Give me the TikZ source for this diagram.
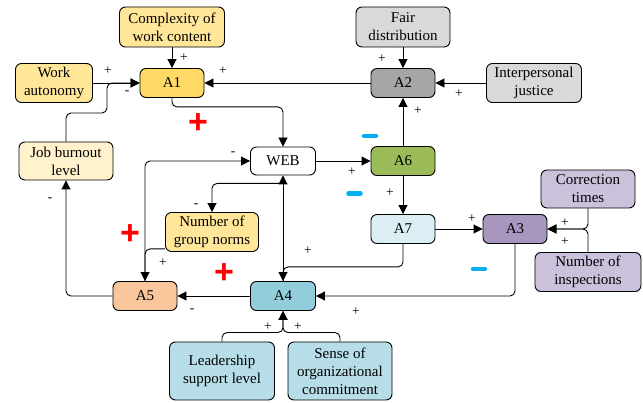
\documentclass[tikz,border=0pt]{standalone}
\usepackage{fontspec}
\setmainfont{Liberation Serif}
\newfontfamily\sansf{Liberation Sans}
\usetikzlibrary{arrows.meta}
\definecolor{cyel}{HTML}{FFE699}
\definecolor{cgold}{HTML}{FFD966}
\definecolor{cpale}{HTML}{FFF2CC}
\definecolor{cgrey}{HTML}{D9D9D9}
\definecolor{cdgrey}{HTML}{A6A6A6}
\definecolor{cgreen}{HTML}{9BBB59}
\definecolor{clblue}{HTML}{DAEEF3}
\definecolor{cpurp}{HTML}{A796BE}
\definecolor{clpurp}{HTML}{CCC1DA}
\definecolor{cblue}{HTML}{92CDDC}
\definecolor{cmblue}{HTML}{B7DEE8}
\definecolor{cpeach}{HTML}{F9C59B}
\definecolor{cminus}{HTML}{00B0F0}
\begin{document}
\begin{tikzpicture}[x=1pt,y=-1pt,
  box/.style={draw, line width=0.9pt, rounded corners=6pt, align=center, inner sep=0pt,
    font=\fontsize{15}{18}\selectfont},
  sm/.style={box, minimum width=64pt, minimum height=29pt},
  ar/.style={-{Triangle[length=9pt,width=9pt]}, line width=0.9pt, rounded corners=5pt},
  pl/.style={font=\fontsize{13.5}{13.5}\selectfont, inner sep=0pt},
  bigp/.style={text=red, font=\sansf\bfseries\fontsize{34}{34}\selectfont, inner sep=0pt},
  bigm/.style={draw=cminus, line width=4.5pt, line cap=round}]
\useasboundingbox (0,0) rectangle (643,403);
% nodes
\node[box, fill=cyel, minimum width=105pt, minimum height=40pt] (cx) at (172,27) {Complexity of\\work content};
\node[box, fill=cyel, minimum width=77pt, minimum height=39pt] (wa) at (54,83) {Work\\autonomy};
\node[sm, fill=cgold] (a1) at (172,83) {A1};
\node[box, fill=cpale, minimum width=94pt, minimum height=38pt] (jb) at (66,161) {Job burnout\\level};
\node[sm, fill=white, minimum width=65pt, minimum height=28pt] (web) at (283,161) {WEB};
\node[box, fill=cgrey, minimum width=94pt, minimum height=40pt] (fd) at (403,27) {Fair\\distribution};
\node[sm, fill=cdgrey] (a2) at (403,83) {A2};
\node[box, fill=cgrey, minimum width=95pt, minimum height=39pt] (ij) at (534,83) {Interpersonal\\justice};
\node[sm, fill=cgreen] (a6) at (403,161) {A6};
\node[box, fill=clpurp, minimum width=94pt, minimum height=38pt] (ct) at (588,189) {Correction\\times};
\node[sm, fill=clblue] (a7) at (403,229) {A7};
\node[sm, fill=cpurp] (a3) at (515,229) {A3};
\node[box, fill=clpurp, minimum width=106pt, minimum height=39pt] (ni) at (588,272) {Number of\\inspections};
\node[sm, fill=cpeach] (a5) at (145,296) {A5};
\node[sm, fill=cblue, minimum width=65pt] (a4) at (283,296) {A4};
\node[box, fill=cyel, minimum width=93pt, minimum height=39pt] (gn) at (212,232) {Number of\\group norms};
\node[box, fill=cmblue, minimum width=105pt, minimum height=58pt] (ls) at (222,371) {Leadership\\support level};
\node[box, fill=cmblue, minimum width=104pt, minimum height=58pt] (so) at (340,371) {Sense of\\organizational\\commitment};
% connectors
\draw[ar] (cx.south) -- (a1.north);
\draw[ar] (wa.east) -- (a1.west);
\draw[ar] (jb.north) |- (107,113) |- (a1.west);
\draw[ar] (a2.west) -- (a1.east);
\draw[ar] (a1.south) -- ++(0,9) -| (web.north);
\draw[ar] (web.east) -- (a6.west);
\draw[ar] (a6.north) -- (a2.south);
\draw[ar] (fd.south) -- (a2.north);
\draw[ar] (ij.west) -- (a2.east);
\draw[ar] (a6.south) -- (a7.north);
\draw[ar] (a7.east) -- (a3.west);
\draw[ar] (ct.south) |- (a3.east);
\draw[ar] (ni.north) |- (a3.east);
\draw[ar] (a3.south) |- (a4.east);
\draw[ar] (a7.south) -- ++(0,23) -| (a4.north);
\draw[ar] (a4.north) -- (web.south);
\draw[ar] ([yshift=-8pt]web.south) -| (gn.north);
\draw[ar] (a5.north) |- (web.west);
\draw[ar] ([yshift=3pt]gn.south west) -| (a5.north);
\draw[ar] (a4.west) -- (a5.east);
\draw[ar] (a5.west) -| (jb.south);
\draw[ar] (ls.north) -- ++(0,-9) -| (a4.south);
\draw[ar] (so.north) -- ++(0,-9) -| (a4.south);
% small labels
\node[pl] (l1) at (184,58) {+};
\node[pl] (l2) at (108,71) {+};
\node[pl] (l3) at (127,93) {-};
\node[pl] (l4) at (223,71) {+};
\node[pl] (l5) at (382,59) {+};
\node[pl] (l6) at (459,94) {+};
\node[pl] (l7) at (418,111) {+};
\node[pl] (l8) at (352,172) {+};
\node[pl] (l9) at (390,193) {+};
\node[pl] (l10) at (233,154) {-};
\node[pl] (l11) at (196,206) {-};
\node[pl] (l12) at (163,263) {+};
\node[pl] (l13) at (308,251) {+};
\node[pl] (l14) at (472,219) {+};
\node[pl] (l15) at (565,223) {+};
\node[pl] (l16) at (565,242) {+};
\node[pl] (l17) at (356,312) {+};
\node[pl] (l18) at (192,311) {-};
\node[pl] (l19) at (50,200) {-};
\node[pl] (l20) at (268,327) {+};
\node[pl] (l21) at (298,327) {+};
% big signs
\node[bigp] (p1) at (198,124) {+};
\node[bigp] (p2) at (130,235) {+};
\node[bigp] (p3) at (224,274) {+};
\draw[bigm] (364,136) -- (376,136);
\draw[bigm] (348.5,193.5) -- (360.5,193.5);
\draw[bigm] (473,269) -- (485,269);
\end{tikzpicture}
\end{document}
